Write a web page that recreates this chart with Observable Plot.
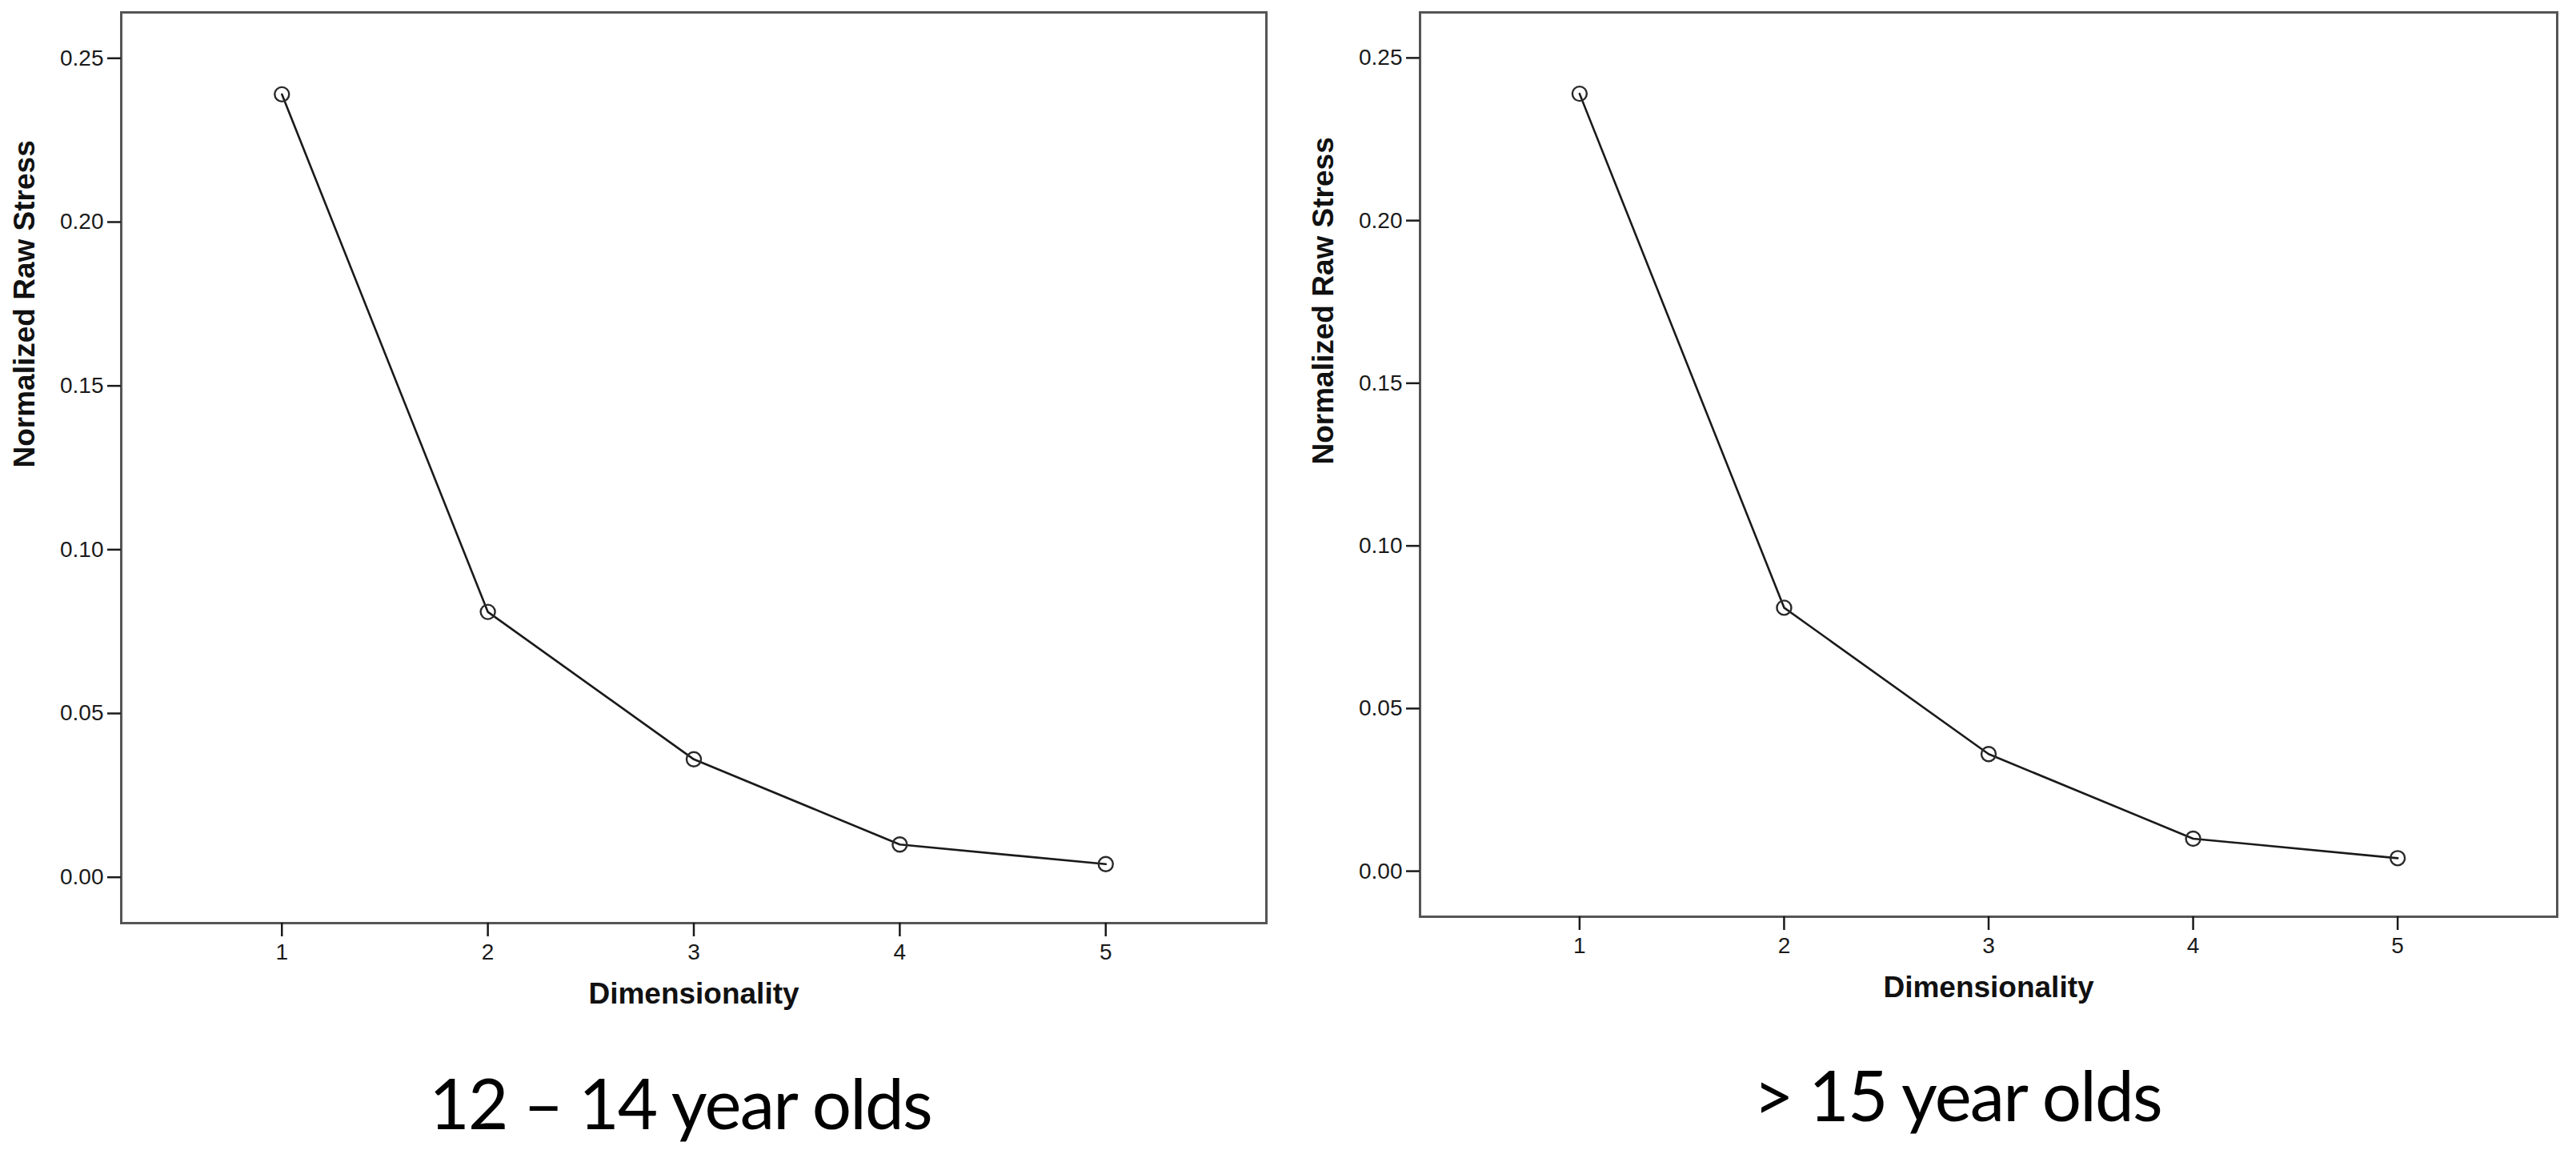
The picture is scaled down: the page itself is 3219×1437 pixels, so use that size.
<!DOCTYPE html>
<html><head><meta charset="utf-8">
<script src="https://cdn.jsdelivr.net/npm/d3@7"></script>
<script src="https://cdn.jsdelivr.net/npm/@observablehq/plot@0.6"></script>
<style>
body{margin:0;background:#fff;width:3219px;height:1437px;position:relative;overflow:hidden}
.panel{position:absolute;top:0}
.cap{position:absolute;font-family:Lato,"Open Sans",sans-serif;font-size:87px;line-height:87px;letter-spacing:-1.8px;white-space:nowrap;transform:translateX(-50%);color:#000}
</style></head><body>
<div id="p1" class="panel" style="left:0"></div>
<div id="p2" class="panel" style="left:1623px"></div>
<div id="c1" class="cap" style="left:850px;top:1334px"></div>
<div id="c2" class="cap" style="left:2446px;top:1324px"></div>
<script>
const dimensions = [1, 2, 3, 4, 5];
const stressYoung = [0.239, 0.081, 0.036, 0.010, 0.004];
const stressOld = [0.239, 0.081, 0.036, 0.010, 0.004];
const yTicks = [0, 0.05, 0.10, 0.15, 0.20, 0.25];
const xTicks = [1, 2, 3, 4, 5];
const xLabel = "Dimensionality";
const yLabel = "Normalized Raw Stress";
const captions = ["12 – 14 year olds", "> 15 year olds"];

function panel(values, width, marginBottom) {
  const data = dimensions.map((d, i) => ({d, v: values[i]}));
  return Plot.plot({
    width, height: 1290,
    marginLeft: 151, marginRight: 18, marginTop: 15, marginBottom,
    style: {fontFamily: "'Liberation Sans', Arial, sans-serif", background: "white", overflow: "visible", color: "#1a1a1a"},
    x: {domain: [0.22, 5.78]},
    y: {domain: [-0.014, 0.264]},
    marks: [
      Plot.frame({stroke: "#555", strokeWidth: 3}),
      Plot.axisY({ticks: yTicks, tickFormat: d3.format(".2f"), tickSize: 17, tickPadding: 5, fontSize: 28, label: null, strokeWidth: 2.5}),
      Plot.axisX({ticks: xTicks, tickFormat: d3.format("d"), tickSize: 17, tickPadding: 9, fontSize: 28, label: null, strokeWidth: 2.5}),
      Plot.line(data, {x: "d", y: "v", stroke: "#1a1a1a", strokeWidth: 2.6}),
      Plot.dot(data, {x: "d", y: "v", r: 9, stroke: "#2a2a2a", strokeWidth: 2.4, fill: "none"}),
      Plot.text([yLabel], {text: d => d, frameAnchor: "left", dx: -120, rotate: -90, fontWeight: "bold", fontSize: 37, fill: "#111"}),
      Plot.text([xLabel], {text: d => d, frameAnchor: "bottom", dy: 100, fontWeight: "bold", fontSize: 37, fill: "#111"})
    ]
  });
}
document.getElementById("p1").append(panel(stressYoung, 1600, 137));
document.getElementById("p2").append(panel(stressOld, 1590, 145));
document.getElementById("c1").textContent = captions[0];
document.getElementById("c2").textContent = captions[1];
</script>
</body></html>
